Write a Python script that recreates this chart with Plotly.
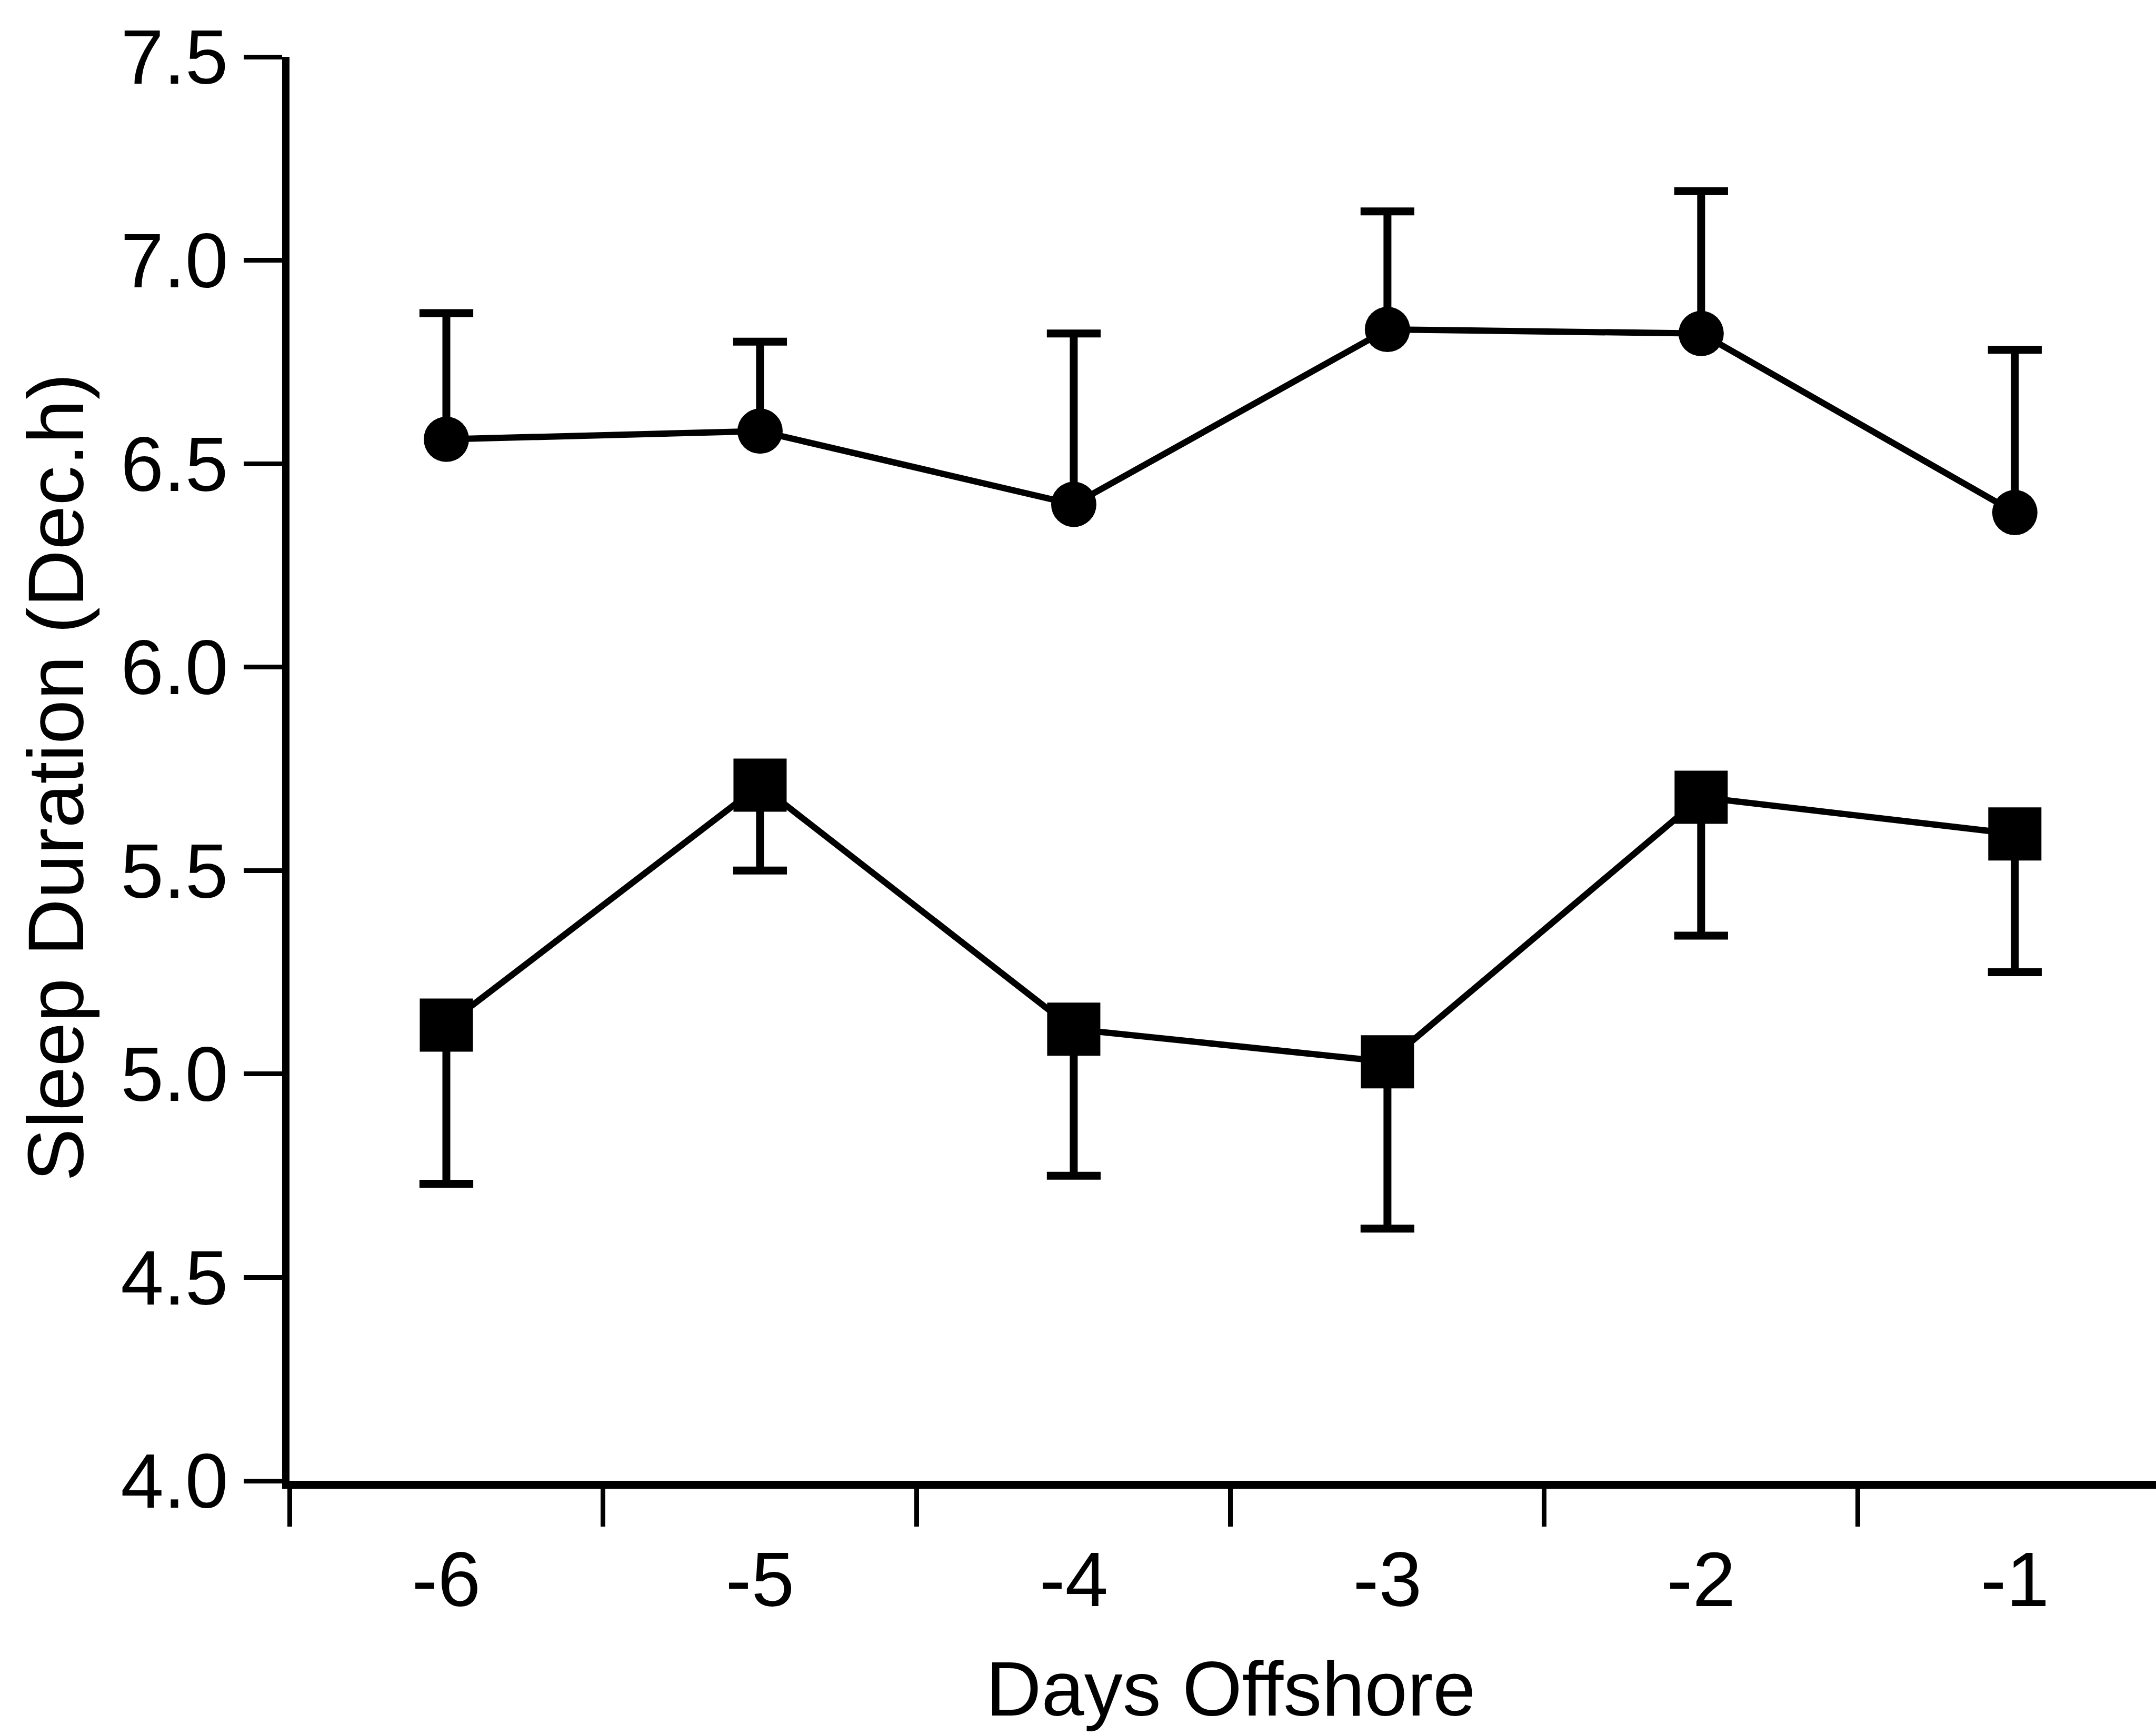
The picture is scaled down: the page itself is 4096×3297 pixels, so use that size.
import plotly.graph_objects as go

# Days offshore (categories) and sleep duration data (decimal hours)
days = [-6, -5, -4, -3, -2, -1]
day_labels = ["-6", "-5", "-4", "-3", "-2", "-1"]

offshore_mean = [6.56, 6.58, 6.40, 6.83, 6.82, 6.38]
offshore_err = [0.31, 0.22, 0.42, 0.29, 0.35, 0.40]

onshore_mean = [5.12, 5.71, 5.11, 5.03, 5.68, 5.59]
onshore_err = [0.39, 0.21, 0.36, 0.41, 0.34, 0.34]

y_ticks = [4.0, 4.5, 5.0, 5.5, 6.0, 6.5, 7.0, 7.5]
x_boundaries = [-6.5, -5.5, -4.5, -3.5, -2.5, -1.5]

W, H = 4096, 3297
ML, MR, MT, MB = 550, 0, 108, 483
FONT = "Liberation Sans, Arial, sans-serif"


def paper_x(px):
    return (px - ML) / (W - ML - MR)


def paper_y(py):
    return (H - MB - py) / (H - MB - MT)


def add_series(means, errs, symbol, size, upward):
    zeros = [0] * len(means)
    # one-sided stems (no built-in caps, so nothing pokes out at the marker)
    fig.add_trace(go.Scatter(
        x=days, y=means, mode="lines+markers",
        line=dict(color="black", width=12),
        marker=dict(symbol=symbol, size=size, color="black", line=dict(width=0)),
        error_y=dict(type="data", symmetric=False,
                     array=errs if upward else zeros,
                     arrayminus=zeros if upward else errs,
                     color="black", thickness=15, width=0),
        showlegend=False, hoverinfo="skip",
    ))
    # caps at the open end of each error bar
    ends = [m + e if upward else m - e for m, e in zip(means, errs)]
    fig.add_trace(go.Scatter(
        x=days, y=ends, mode="markers",
        marker=dict(symbol="line-ew", size=73,
                    line=dict(color="black", width=15)),
        showlegend=False, hoverinfo="skip",
    ))


fig = go.Figure()
add_series(offshore_mean, offshore_err, "circle", 86, True)
add_series(onshore_mean, onshore_err, "square", 101, False)

fig.update_layout(
    width=W, height=H,
    margin=dict(l=ML, r=MR, t=MT, b=MB, pad=0),
    paper_bgcolor="white", plot_bgcolor="white",
    font=dict(family=FONT, color="black", size=147),
    xaxis=dict(
        range=[-6.5, -0.55],
        tickmode="array", tickvals=days, ticktext=day_labels,
        ticks="", showgrid=False, zeroline=False,
        showline=True, linecolor="black", linewidth=15,
        ticklabelstandoff=47,
        tickfont=dict(family=FONT, size=147, color="black"),
        minor=dict(tickmode="array", tickvals=x_boundaries, ticks="outside",
                   ticklen=72, tickwidth=9, tickcolor="black", showgrid=False),
    ),
    yaxis=dict(
        range=[4.0, 7.5],
        tickmode="array", tickvals=y_ticks, tickformat=".1f",
        ticks="outside", ticklen=73, tickwidth=9, tickcolor="black",
        showgrid=False, zeroline=False,
        showline=True, linecolor="black", linewidth=14,
        tickfont=dict(family=FONT, size=147, color="black"),
    ),
    annotations=[
        dict(text="Days Offshore", xref="paper", yref="paper",
             x=paper_x(2338), y=paper_y(3210), xanchor="center", yanchor="middle",
             showarrow=False, font=dict(family=FONT, size=146, color="black")),
        dict(text="Sleep Duration (Dec.h)", xref="paper", yref="paper",
             x=paper_x(106), y=paper_y(1477), xanchor="center", yanchor="middle",
             textangle=-90, showarrow=False,
             font=dict(family=FONT, size=151, color="black")),
    ],
)

fig.write_html("out.html")
